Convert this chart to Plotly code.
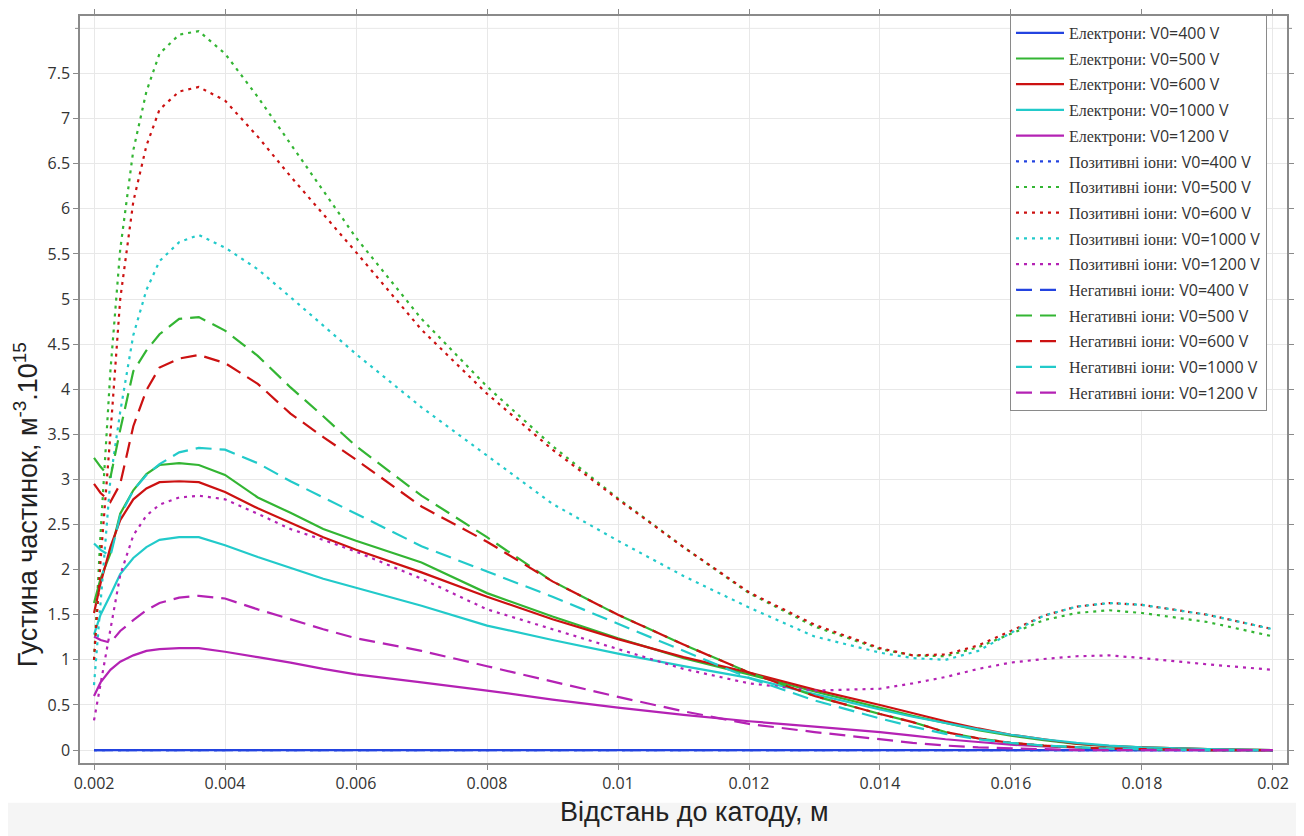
import plotly.graph_objects as go

# distance to cathode, m
x = [0.002, 0.0021, 0.00225, 0.0024, 0.0026, 0.0028, 0.003, 0.0033, 0.0036, 0.004,
     0.0045, 0.005, 0.0055, 0.006, 0.007, 0.008, 0.009, 0.010, 0.011, 0.012,
     0.013, 0.014, 0.0145, 0.015, 0.0155, 0.016, 0.0165, 0.017, 0.0175, 0.018,
     0.019, 0.020]

voltages = ["400", "500", "600", "1000", "1200"]
colors = ["#2343e0", "#33b533", "#cc1111", "#22caca", "#b422b4"]

# Electrons
el_400 = [0.0] * 32
el_500 = [1.63, 1.90, 2.18, 2.62, 2.88, 3.06, 3.16, 3.18, 3.16, 3.05, 2.80, 2.63, 2.45, 2.32, 2.08,
          1.74, 1.48, 1.24, 1.02, 0.84, 0.65, 0.47, 0.38, 0.30, 0.22, 0.16, 0.11, 0.07, 0.045,
          0.03, 0.01, 0.0]
el_600 = [1.52, 1.85, 2.25, 2.55, 2.78, 2.90, 2.97, 2.98, 2.97, 2.86, 2.68, 2.52, 2.36, 2.22, 1.97,
          1.70, 1.45, 1.23, 1.03, 0.86, 0.67, 0.50, 0.41, 0.32, 0.24, 0.17, 0.12, 0.07, 0.045,
          0.03, 0.01, 0.0]
el_1000 = [1.28, 1.50, 1.72, 1.95, 2.13, 2.25, 2.33, 2.36, 2.36, 2.27, 2.14, 2.02, 1.90, 1.80, 1.60,
           1.38, 1.22, 1.07, 0.93, 0.80, 0.62, 0.45, 0.37, 0.30, 0.23, 0.17, 0.12, 0.08, 0.05,
           0.03, 0.01, 0.0]
el_1200 = [0.60, 0.75, 0.89, 0.98, 1.05, 1.10, 1.12, 1.13, 1.13, 1.09, 1.03, 0.97, 0.90, 0.84, 0.75,
           0.66, 0.56, 0.47, 0.39, 0.32, 0.26, 0.20, 0.16, 0.12, 0.09, 0.06, 0.04, 0.025, 0.015,
           0.01, 0.0, 0.0]

# Positive ions
pos_400 = [0.0] * 32
pos_500 = [1.00, 2.40, 4.20, 5.55, 6.65, 7.30, 7.72, 7.93, 7.97, 7.72, 7.24, 6.72, 6.19, 5.68, 4.78,
           4.03, 3.37, 2.79, 2.25, 1.74, 1.37, 1.12, 1.05, 1.04, 1.14, 1.29, 1.44, 1.52, 1.55,
           1.52, 1.42, 1.26]
pos_600 = [1.00, 2.10, 3.50, 5.00, 6.08, 6.70, 7.10, 7.30, 7.35, 7.20, 6.80, 6.36, 5.94, 5.52, 4.66,
           3.95, 3.33, 2.78, 2.25, 1.75, 1.39, 1.13, 1.05, 1.06, 1.16, 1.32, 1.49, 1.59, 1.63,
           1.61, 1.50, 1.34]
pos_1000 = [0.72, 1.60, 3.00, 3.75, 4.60, 5.10, 5.42, 5.63, 5.71, 5.57, 5.33, 5.02, 4.70, 4.39, 3.80,
            3.26, 2.73, 2.32, 1.93, 1.58, 1.26, 1.08, 1.02, 1.00, 1.10, 1.30, 1.49, 1.59, 1.63,
            1.61, 1.50, 1.34]
pos_1200 = [0.33, 0.74, 1.35, 1.94, 2.38, 2.60, 2.72, 2.80, 2.82, 2.78, 2.62, 2.45, 2.33, 2.20, 1.90,
            1.56, 1.34, 1.12, 0.90, 0.74, 0.66, 0.68, 0.74, 0.81, 0.90, 0.97, 1.01, 1.04, 1.05,
            1.02, 0.95, 0.89]

# Negative ions
neg_400 = [0.0] * 32
neg_500 = [3.24, 3.14, 3.02, 3.55, 4.20, 4.43, 4.61, 4.78, 4.80, 4.65, 4.37, 4.02, 3.70, 3.37, 2.82,
           2.36, 1.87, 1.50, 1.17, 0.86, 0.60, 0.40, 0.31, 0.20, 0.13, 0.08, 0.05, 0.03, 0.015,
           0.01, 0.0, 0.0]
neg_600 = [2.95, 2.85, 2.75, 2.95, 3.59, 3.99, 4.24, 4.34, 4.38, 4.29, 4.06, 3.73, 3.47, 3.22, 2.70,
           2.31, 1.87, 1.50, 1.17, 0.86, 0.60, 0.40, 0.31, 0.20, 0.13, 0.08, 0.05, 0.03, 0.015,
           0.01, 0.0, 0.0]
neg_1000 = [2.29, 2.22, 2.15, 2.60, 2.88, 3.05, 3.17, 3.30, 3.35, 3.33, 3.18, 2.98, 2.80, 2.62, 2.26,
            1.98, 1.70, 1.40, 1.10, 0.80, 0.55, 0.35, 0.26, 0.18, 0.12, 0.08, 0.05, 0.03, 0.015,
            0.01, 0.0, 0.0]
neg_1200 = [1.26, 1.22, 1.19, 1.32, 1.44, 1.55, 1.63, 1.69, 1.71, 1.68, 1.56, 1.45, 1.34, 1.24, 1.10,
            0.93, 0.76, 0.59, 0.43, 0.29, 0.20, 0.12, 0.08, 0.05, 0.03, 0.02, 0.01, 0.0, 0.0,
            0.0, 0.0, 0.0]

x_ticks = [0.002, 0.004, 0.006, 0.008, 0.01, 0.012, 0.014, 0.016, 0.018, 0.02]
x_tick_text = ["0.002", "0.004", "0.006", "0.008", "0.01", "0.012", "0.014", "0.016", "0.018", "0.02"]
y_ticks = [0, 0.5, 1, 1.5, 2, 2.5, 3, 3.5, 4, 4.5, 5, 5.5, 6, 6.5, 7, 7.5]
y_tick_text = ["0", "0.5", "1", "1.5", "2", "2.5", "3", "3.5", "4", "4.5", "5", "5.5", "6", "6.5",
               "7", "7.5"]
y_top_grid = 8  # unlabelled gridline at the top

groups = [
    ("Електрони:", [el_400, el_500, el_600, el_1000, el_1200], "solid"),
    ("Позитивні іони:", [pos_400, pos_500, pos_600, pos_1000, pos_1200], "3px,5px"),
    ("Негативні іони:", [neg_400, neg_500, neg_600, neg_1000, neg_1200], "16px,8px"),
]

fig = go.Figure()
k = 0
for label, series, dash in groups:
    for v, col, ys in zip(voltages, colors, series):
        name = ('<span style="font-family:\'Liberation Serif\'">' + label + '</span> V0=' + v + ' V')
        fig.add_trace(go.Scatter(
            x=x, y=ys, mode="lines", name=name, legendgroup="g%d" % k,
            line=dict(color=col, width=2.2, dash=dash),
        ))
        k += 1

axis_common = dict(
    showline=True, linecolor="#8a8a8a", linewidth=1.5, mirror="ticks",
    ticks="outside", ticklen=5, tickcolor="#8a8a8a",
    showgrid=True, gridcolor="#e8e8e8", gridwidth=1, zeroline=False,
    tickfont=dict(family="Open Sans", size=16, color="#333333"),
)

tick_dx = 5 / 1207.0
fig.update_layout(
    width=1296, height=828,
    margin=dict(l=72, r=17, t=1, b=73),
    paper_bgcolor="white", plot_bgcolor="white",
    xaxis=dict(range=[0.001786, 0.020214], tickvals=x_ticks, ticktext=x_tick_text, **axis_common),
    yaxis=dict(range=[-0.143, 8.137], tickvals=y_ticks, ticktext=y_tick_text, **axis_common),
    legend=dict(
        x=0.7705, y=1.0015, xanchor="left", yanchor="top",
        bgcolor="white", bordercolor="#8a8a8a", borderwidth=1,
        font=dict(family="Open Sans", size=16, color="#333333"),
        tracegroupgap=1.9, traceorder="grouped", itemwidth=48,
    ),
    shapes=[
        dict(type="rect", xref="paper", yref="paper", x0=-0.07, x1=1.02,
             y0=-0.0531, y1=-0.1, fillcolor="#f5f5f5", line=dict(width=0), layer="below"),
        dict(type="line", xref="paper", yref="y", x0=0, x1=1, y0=y_top_grid, y1=y_top_grid,
             line=dict(color="#e8e8e8", width=1), layer="below"),
        dict(type="line", xref="paper", yref="y", x0=-tick_dx, x1=0, y0=y_top_grid, y1=y_top_grid,
             line=dict(color="#8a8a8a", width=1)),
        dict(type="line", xref="paper", yref="y", x0=1, x1=1 + tick_dx, y0=y_top_grid, y1=y_top_grid,
             line=dict(color="#8a8a8a", width=1)),
    ],
    annotations=[
        dict(text="Відстань до катоду, м", xref="paper", yref="paper", x=0.509, y=-0.065,
             xanchor="center", yanchor="middle", showarrow=False,
             font=dict(family="Liberation Sans", size=27, color="#222222")),
        dict(text="Густина частинок, м<sup>-3</sup>.10<sup>15</sup>", xref="paper", yref="paper",
             x=-0.045, y=0.346, xanchor="center", yanchor="middle", textangle=-90, showarrow=False,
             font=dict(family="Liberation Sans", size=27, color="#222222")),
    ],
)

fig.write_html("out.html")
